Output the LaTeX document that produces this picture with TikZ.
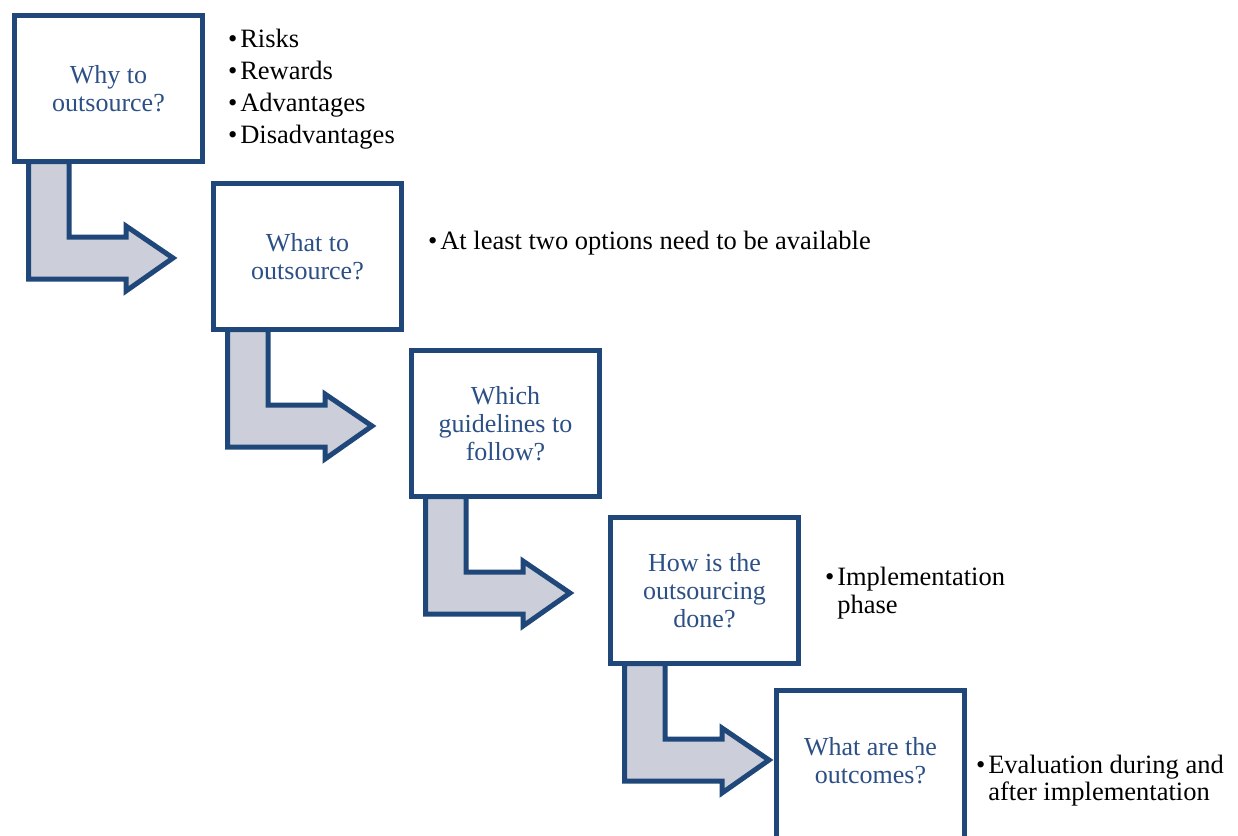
\documentclass[tikz,border=0pt]{standalone}
\usepackage{fontspec}
\setmainfont{Liberation Serif}
\usetikzlibrary{backgrounds}

\definecolor{stepline}{RGB}{31,71,122}
\definecolor{steptext}{RGB}{44,80,134}
\definecolor{stepfill}{RGB}{204,207,217}

\tikzset{
  stepbox/.style={draw=stepline, line width=5pt, fill=white, line join=miter,
    minimum width=188pt, minimum height=146pt, inner sep=0pt, outer sep=0pt,
    align=center, text=steptext, font=\fontsize{26}{27.7}\selectfont},
  bendarrow/.style={draw=stepline, fill=stepfill, line width=5pt, line join=miter},
  bullets/.style={anchor=base west, inner sep=0pt, outer sep=0pt, text=black,
    font=\fontsize{26.5}{32}\selectfont},
  tightbullets/.style={bullets, font=\fontsize{26.5}{27.7}\selectfont},
}

% list of bullet items, first baseline is the node's base
\newcommand\bulletrows[1]{\begin{tabular}[t]{@{}l@{\hspace{3pt}}l@{}}#1\end{tabular}}

% bent block arrow hanging below a step box, drawn behind the boxes
\newcommand\stepArrow[1]{%
  \begin{pgfonlayer}{background}
    \begin{scope}[shift={(#1.south west)}]
      \draw[bendarrow] (14,0) -- (14,117.5) -- (111.5,117.5) -- (111.5,129.5)
        -- (158.5,96.5) -- (111.5,64.5) -- (111.5,75.5) -- (54.5,75.5)
        -- (54.5,0) -- cycle;
    \end{scope}
  \end{pgfonlayer}}

\begin{document}
\begin{tikzpicture}[x=1pt, y=-1pt]
  \clip (0,0) rectangle (1238,835);

  % step boxes
  \node[stepbox] (b1) at (108.5,88.5) {Why to\\outsource?};
  \node[stepbox] (b2) at (307.5,256.5) {What to\\outsource?};
  \node[stepbox] (b3) at (505.5,423.5) {Which\\guidelines to\\follow?};
  \node[stepbox] (b4) at (704.5,590.5) {How is the\\outsourcing\\done?};
  % the last box runs on past the lower edge
  \node[stepbox, minimum height=156pt] (b5) at (870.5,768.5)
    {What are the\\outcomes?\rule[-16pt]{0pt}{16pt}};

  % arrows leading from each box to the next
  \stepArrow{b1}
  \stepArrow{b2}
  \stepArrow{b3}
  \stepArrow{b4}

  % notes beside the boxes
  \node[bullets] (n1) at (228,47) {\bulletrows{%
      \textbullet & Risks\\
      \textbullet & Rewards\\
      \textbullet & Advantages\\
      \textbullet & Disadvantages}};
  \node[bullets] (n2) at (428,249) {\bulletrows{%
      \textbullet & At least two options need to be available}};
  \node[tightbullets] (n4) at (825,585.5) {\bulletrows{%
      \textbullet & Implementation\\
      & phase}};
  \node[tightbullets] (n5) at (976,773) {\bulletrows{%
      \textbullet & Evaluation during and\\
      & after implementation}};
\end{tikzpicture}
\end{document}
